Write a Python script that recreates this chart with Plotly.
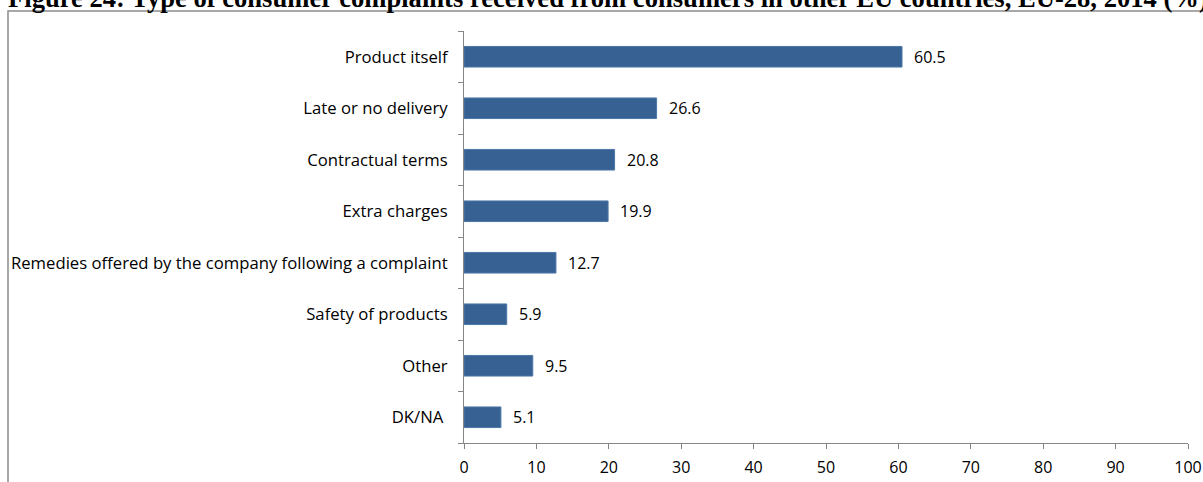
import plotly.graph_objects as go

# Complaint types (top to bottom) and shares in %
categories = [
    "Product itself",
    "Late or no delivery",
    "Contractual terms",
    "Extra charges",
    "Remedies offered by the company following a complaint",
    "Safety of products",
    "Other",
    "DK/NA\u00a0",
]
shares = [60.5, 26.6, 20.8, 19.9, 12.7, 5.9, 9.5, 5.1]
x_ticks = [0, 10, 20, 30, 40, 50, 60, 70, 80, 90, 100]

title_text = ("Figure 24: Type of consumer complaints received from consumers "
              "in other EU countries, EU-28, 2014 (%)")

W, H = 1203, 482
L, R, T, B = 464, 15, 31, 39
plot_w = W - L - R
plot_h = H - T - B

axis_grey = "#868686"
cat_font = dict(family="Open Sans", size=16.7, color="#000000")
value_font = dict(family="Open Sans", size=16, color="#000000")
tick_font = dict(family="Open Sans", size=16, color="#000000")

fig = go.Figure()
fig.add_trace(go.Bar(
    x=shares,
    y=categories,
    orientation="h",
    marker=dict(color="#386193", line=dict(color="#4d78a8", width=1)),
    width=0.4,
    hoverinfo="skip",
))

# value labels just beyond the bar ends
for cat, v in zip(categories, shares):
    fig.add_annotation(
        x=v, y=cat, xref="x", yref="y",
        text=f"{v:.1f}", showarrow=False,
        xanchor="left", yanchor="middle", xshift=10,
        font=value_font,
    )

def px_to_paper_x(px):
    return (px - L) / plot_w

def px_to_paper_y(py):
    return (H - B - py) / plot_h

# outer frame around the chart
fig.add_shape(
    type="rect", xref="paper", yref="paper",
    x0=px_to_paper_x(8), x1=px_to_paper_x(1215),
    y0=px_to_paper_y(495), y1=px_to_paper_y(11),
    line=dict(color="#8c8c8c", width=1.5),
    fillcolor="rgba(0,0,0,0)",
    layer="below",
)

# heading, partly above the page edge
fig.add_annotation(
    x=px_to_paper_x(6), y=px_to_paper_y(15), xref="paper", yref="paper",
    text=f"<b>{title_text}</b>", showarrow=False,
    xanchor="left", yanchor="bottom",
    font=dict(family="Liberation Serif", size=26.6, color="#000000"),
)

fig.update_layout(
    width=W, height=H,
    margin=dict(l=L, r=R, t=T, b=B, pad=0, autoexpand=False),
    paper_bgcolor="white", plot_bgcolor="white",
    showlegend=False,
    bargap=0.6,
)

fig.update_xaxes(
    range=[0, 100],
    tickvals=x_ticks,
    ticktext=[str(t) for t in x_ticks],
    ticks="outside", ticklen=5, tickcolor=axis_grey, tickwidth=1,
    showline=True, linecolor=axis_grey, linewidth=1,
    showgrid=False, zeroline=False,
    tickfont=tick_font,
    ticklabelstandoff=5,
    automargin=False,
)

fig.update_yaxes(
    categoryorder="array", categoryarray=categories[::-1],
    ticks="outside", ticklen=5, tickcolor=axis_grey, tickwidth=1,
    tickson="boundaries",
    showline=True, linecolor=axis_grey, linewidth=1,
    showgrid=False, zeroline=False,
    tickfont=cat_font,
    ticklabelstandoff=12,
    automargin=False,
)

fig.write_html("out.html")
